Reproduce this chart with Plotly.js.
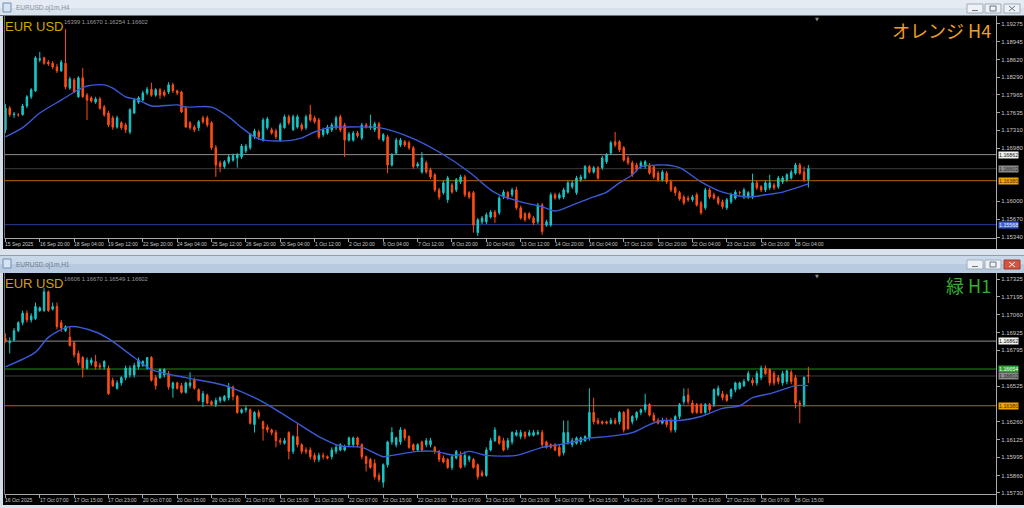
<!DOCTYPE html>
<html><head><meta charset="utf-8">
<script src="https://cdn.plot.ly/plotly-3.0.1.min.js"></script>
<style>html,body{margin:0;padding:0;background:#d3dde8;overflow:hidden}#chart{width:1024px;height:508px}</style>
</head><body><div id="chart"></div>
<script>
// ===== H4 chart (top) =====
const topOpen = [
1.1732,1.1772,1.1760,1.1760,1.1760,1.1776,1.1793,1.1804,1.1861,1.1865,
1.1857,1.1855,1.1848,1.1841,1.1855,1.1809,1.1824,1.1793,1.1828,1.1796,
1.1791,1.1783,1.1789,1.1774,1.1763,1.1754,1.1737,1.1745,1.1741,1.1728,
1.1763,1.1783,1.1787,1.1800,1.1807,1.1796,1.1806,1.1802,1.1802,1.1815,
1.1804,1.1802,1.1772,1.1745,1.1737,1.1736,1.1754,1.1754,1.1745,1.1699,
1.1671,1.1664,1.1673,1.1676,1.1680,1.1682,1.1693,1.1699,1.1719,1.1728,
1.1713,1.1736,1.1732,1.1730,1.1713,1.1736,1.1756,1.1732,1.1737,1.1741,
1.1736,1.1760,1.1754,1.1750,1.1723,1.1726,1.1732,1.1736,1.1756,1.1741,
1.1713,1.1713,1.1726,1.1717,1.1741,1.1736,1.1732,1.1743,1.1713,1.1719,
1.1667,1.1689,1.1704,1.1710,1.1708,1.1699,1.1665,1.1654,1.1671,1.1658,
1.1649,1.1621,1.1616,1.1603,1.1630,1.1621,1.1636,1.1645,1.1616,1.1616,
1.1542,1.1562,1.1562,1.1571,1.1580,1.1579,1.1608,1.1616,1.1612,1.1621,
1.1588,1.1577,1.1577,1.1569,1.1562,1.1593,1.1556,1.1556,1.1612,1.1606,
1.1608,1.1617,1.1627,1.1616,1.1640,1.1643,1.1664,1.1654,1.1662,1.1662,
1.1673,1.1689,1.1710,1.1710,1.1699,1.1680,1.1671,1.1667,1.1664,1.1664,
1.1667,1.1664,1.1652,1.1640,1.1652,1.1636,1.1625,1.1616,1.1608,1.1606,
1.1603,1.1612,1.1597,1.1588,1.1621,1.1612,1.1606,1.1599,1.1588,1.1599,
1.1606,1.1616,1.1608,1.1608,1.1608,1.1634,1.1627,1.1621,1.1625,1.1630,
1.1627,1.1636,1.1640,1.1643,1.1652,1.1667,1.1654,1.16399];
const topHigh = [
1.1780,1.1776,1.1765,1.1763,1.1780,1.1796,1.1809,1.1868,1.1876,1.1867,
1.1861,1.1859,1.1854,1.1861,1.1918,1.1830,1.1828,1.1831,1.1846,1.1800,
1.1794,1.1793,1.1793,1.1778,1.1767,1.1758,1.1758,1.1748,1.1745,1.1772,
1.1791,1.1794,1.1804,1.1811,1.1819,1.1809,1.1809,1.1806,1.1820,1.1819,
1.1806,1.1804,1.1776,1.1748,1.1741,1.1750,1.1758,1.1758,1.1748,1.1704,
1.1675,1.1676,1.1686,1.1688,1.1689,1.1706,1.1706,1.1726,1.1734,1.1732,
1.1754,1.1756,1.1736,1.1734,1.1745,1.1760,1.1760,1.1760,1.1760,1.1745,
1.1760,1.1778,1.1758,1.1754,1.1736,1.1741,1.1745,1.1758,1.1760,1.1745,
1.1728,1.1730,1.1730,1.1745,1.1745,1.1760,1.1747,1.1747,1.1726,1.1723,
1.1689,1.1717,1.1717,1.1713,1.1712,1.1702,1.1673,1.1691,1.1675,1.1662,
1.1652,1.1625,1.1638,1.1647,1.1634,1.1643,1.1649,1.1649,1.1619,1.1619,
1.1569,1.1573,1.1579,1.1584,1.1584,1.1610,1.1621,1.1619,1.1625,1.1627,
1.1592,1.1580,1.1580,1.1573,1.1597,1.1597,1.1566,1.1616,1.1616,1.1616,
1.1625,1.1638,1.1638,1.1647,1.1649,1.1667,1.1667,1.1665,1.1665,1.1684,
1.1689,1.1712,1.1728,1.1713,1.1702,1.1684,1.1675,1.1671,1.1675,1.1676,
1.1671,1.1667,1.1656,1.1658,1.1656,1.1640,1.1628,1.1619,1.1612,1.1610,
1.1612,1.1616,1.1601,1.1625,1.1625,1.1616,1.1610,1.1603,1.1606,1.1616,
1.1621,1.1619,1.1625,1.1619,1.1651,1.1638,1.1630,1.1638,1.1649,1.1634,
1.1647,1.1647,1.1652,1.1658,1.1671,1.1671,1.1664,1.16670];
const topLow = [
1.1726,1.1756,1.1754,1.1756,1.1758,1.1772,1.1789,1.1802,1.1857,1.1852,
1.1850,1.1844,1.1837,1.1839,1.1807,1.1806,1.1800,1.1791,1.1791,1.1750,
1.1782,1.1780,1.1769,1.1756,1.1737,1.1732,1.1734,1.1732,1.1726,1.1724,
1.1761,1.1780,1.1785,1.1796,1.1793,1.1793,1.1789,1.1793,1.1798,1.1800,
1.1796,1.1763,1.1736,1.1732,1.1728,1.1730,1.1743,1.1737,1.1695,1.1645,
1.1654,1.1660,1.1669,1.1673,1.1662,1.1678,1.1689,1.1695,1.1715,1.1713,
1.1710,1.1732,1.1723,1.1715,1.1710,1.1734,1.1741,1.1730,1.1734,1.1730,
1.1732,1.1747,1.1743,1.1715,1.1719,1.1723,1.1728,1.1732,1.1728,1.1682,
1.1710,1.1710,1.1717,1.1713,1.1734,1.1732,1.1728,1.1713,1.1710,1.1652,
1.1664,1.1686,1.1700,1.1700,1.1695,1.1660,1.1662,1.1651,1.1651,1.1641,
1.1617,1.1603,1.1612,1.1597,1.1614,1.1617,1.1632,1.1608,1.1604,1.1542,
1.1536,1.1558,1.1558,1.1568,1.1560,1.1575,1.1604,1.1603,1.1608,1.1584,
1.1566,1.1562,1.1566,1.1556,1.1558,1.1538,1.1553,1.1553,1.1603,1.1603,
1.1604,1.1614,1.1623,1.1612,1.1636,1.1640,1.1651,1.1651,1.1640,1.1658,
1.1669,1.1686,1.1700,1.1691,1.1673,1.1667,1.1645,1.1654,1.1660,1.1660,
1.1649,1.1641,1.1636,1.1636,1.1632,1.1617,1.1610,1.1601,1.1593,1.1599,
1.1599,1.1590,1.1575,1.1584,1.1604,1.1603,1.1593,1.1586,1.1584,1.1595,
1.1603,1.1612,1.1604,1.1604,1.1604,1.1621,1.1617,1.1617,1.1621,1.1621,
1.1623,1.1632,1.1636,1.1640,1.1649,1.1649,1.1636,1.16254];
const topClose = [
1.1772,1.1760,1.1761,1.1760,1.1776,1.1793,1.1806,1.1865,1.1863,1.1855,
1.1854,1.1848,1.1841,1.1857,1.1811,1.1826,1.1802,1.1828,1.1793,1.1787,
1.1785,1.1789,1.1772,1.1760,1.1741,1.1737,1.1754,1.1736,1.1732,1.1769,
1.1787,1.1791,1.1800,1.1807,1.1796,1.1806,1.1796,1.1796,1.1815,1.1804,
1.1800,1.1765,1.1737,1.1736,1.1732,1.1747,1.1747,1.1741,1.1699,1.1667,
1.1664,1.1673,1.1682,1.1684,1.1686,1.1702,1.1702,1.1723,1.1730,1.1719,
1.1750,1.1752,1.1726,1.1719,1.1741,1.1756,1.1745,1.1756,1.1756,1.1734,
1.1756,1.1750,1.1747,1.1719,1.1732,1.1737,1.1741,1.1754,1.1732,1.1713,
1.1724,1.1726,1.1721,1.1741,1.1737,1.1739,1.1743,1.1717,1.1723,1.1667,
1.1686,1.1713,1.1713,1.1704,1.1699,1.1664,1.1669,1.1680,1.1654,1.1645,
1.1621,1.1608,1.1634,1.1643,1.1617,1.1640,1.1645,1.1612,1.1608,1.1556,
1.1566,1.1569,1.1575,1.1580,1.1571,1.1606,1.1617,1.1606,1.1621,1.1588,
1.1569,1.1566,1.1569,1.1560,1.1593,1.1544,1.1562,1.1612,1.1606,1.1612,
1.1621,1.1634,1.1634,1.1643,1.1645,1.1664,1.1654,1.1662,1.1643,1.1680,
1.1686,1.1708,1.1704,1.1695,1.1676,1.1671,1.1649,1.1658,1.1671,1.1673,
1.1652,1.1645,1.1640,1.1654,1.1636,1.1621,1.1616,1.1604,1.1597,1.1603,
1.1608,1.1593,1.1579,1.1621,1.1608,1.1606,1.1597,1.1590,1.1603,1.1612,
1.1617,1.1616,1.1621,1.1616,1.1634,1.1625,1.1621,1.1634,1.1634,1.1625,
1.1643,1.1643,1.1649,1.1654,1.1667,1.1652,1.1640,1.16602];
const topMaIdx = [0,4,8,13,17,19,23,25,28,31,34,40,42,48,52,55,58,60,66,69,72,76,78,87,94,101,108,113,115,120,125,128,132,137,140,143,146,148,152,154,157,162,167,173,177,181,187];
const topMaVal = [1.1719,1.1736,1.1763,1.1787,1.1806,1.1813,1.1815,1.1809,1.1793,1.1787,1.1776,1.1778,1.1774,1.1774,1.1756,1.1736,1.1719,1.1713,1.1712,1.1717,1.1728,1.1737,1.1737,1.1736,1.1719,1.1691,1.1654,1.1621,1.1612,1.1599,1.1590,1.1582,1.1593,1.1608,1.1617,1.1634,1.1649,1.1664,1.1667,1.1667,1.1662,1.1636,1.1617,1.1608,1.1612,1.1617,1.1632];
const topTickIdx = [0,8,16,24,32,40,48,56,64,72,80,88,96,104,112,120,128,136,144,152,160,168,176,184];
const topTickText = ["15 Sep 2025","16 Sep 20:00","18 Sep 04:00","19 Sep 12:00","22 Sep 20:00","24 Sep 04:00","25 Sep 12:00","26 Sep 20:00","30 Sep 04:00","1 Oct 12:00","2 Oct 20:00","6 Oct 04:00","7 Oct 12:00","8 Oct 20:00","10 Oct 04:00","13 Oct 12:00","14 Oct 20:00","16 Oct 04:00","17 Oct 12:00","20 Oct 20:00","22 Oct 04:00","23 Oct 12:00","24 Oct 20:00","28 Oct 04:00"];
const topPriceTicks = [1.19275,1.18945,1.18620,1.18290,1.17965,1.17635,1.17310,1.16980,1.16000,1.15670,1.15340];
const topLevels = [1.16862,1.16602,1.16380,1.15568];
const topHeader = "16399 1.16670 1.16254 1.16602";

// ===== H1 chart (bottom) =====
const botOpen = [
1.1688,1.1685,1.1687,1.1694,1.1700,1.1707,1.1702,1.1703,1.1709,1.1709,
1.1723,1.1710,1.1712,1.1700,1.1694,1.1689,1.1685,1.1677,1.1674,1.1666,
1.1670,1.1671,1.1668,1.1667,1.1666,1.1657,1.1651,1.1655,1.1659,1.1661,
1.1661,1.1667,1.1668,1.1666,1.1674,1.1659,1.1659,1.1661,1.1662,1.1651,
1.1655,1.1653,1.1648,1.1653,1.1657,1.1650,1.1641,1.1646,1.1641,1.1639,
1.1642,1.1642,1.1644,1.1652,1.1645,1.1633,1.1635,1.1635,1.1624,1.1633,
1.1626,1.1622,1.1620,1.1618,1.1612,1.1610,1.1618,1.1604,1.1615,1.1609,
1.1605,1.1605,1.1601,1.1598,1.1601,1.1600,1.1600,1.1604,1.1605,1.1605,
1.1609,1.1609,1.1614,1.1609,1.1600,1.1598,1.1595,1.1586,1.1581,1.1594,
1.1611,1.1609,1.1611,1.1620,1.1615,1.1609,1.1605,1.1611,1.1609,1.1609,
1.1607,1.1604,1.1599,1.1598,1.1592,1.1599,1.1601,1.1594,1.1598,1.1598,
1.1594,1.1588,1.1586,1.1605,1.1612,1.1615,1.1612,1.1607,1.1611,1.1616,
1.1615,1.1618,1.1616,1.1616,1.1617,1.1618,1.1611,1.1609,1.1609,1.1607,
1.1603,1.1611,1.1609,1.1610,1.1611,1.1612,1.1614,1.1633,1.1627,1.1626,
1.1626,1.1625,1.1627,1.1626,1.1633,1.1635,1.1626,1.1629,1.1633,1.1635,
1.1639,1.1631,1.1627,1.1625,1.1627,1.1627,1.1620,1.1630,1.1641,1.1646,
1.1640,1.1639,1.1639,1.1633,1.1639,1.1639,1.1646,1.1647,1.1646,1.1645,
1.1650,1.1651,1.1653,1.1657,1.1657,1.1655,1.1659,1.1666,1.1665,1.1662,
1.1659,1.1655,1.1656,1.1663,1.1659,1.1640,1.1639,1.16606];
const botHigh = [
1.1692,1.1689,1.1696,1.1701,1.1709,1.1709,1.1707,1.1715,1.1712,1.1726,
1.1724,1.1715,1.1715,1.1702,1.1698,1.1697,1.1686,1.1679,1.1675,1.1674,
1.1674,1.1676,1.1670,1.1672,1.1668,1.1659,1.1657,1.1660,1.1668,1.1668,
1.1670,1.1674,1.1672,1.1674,1.1675,1.1661,1.1666,1.1666,1.1664,1.1656,
1.1656,1.1655,1.1656,1.1663,1.1659,1.1651,1.1649,1.1647,1.1642,1.1644,
1.1645,1.1646,1.1655,1.1653,1.1646,1.1636,1.1638,1.1636,1.1634,1.1635,
1.1627,1.1624,1.1621,1.1620,1.1614,1.1614,1.1619,1.1616,1.1625,1.1610,
1.1607,1.1607,1.1603,1.1603,1.1603,1.1601,1.1607,1.1609,1.1610,1.1609,
1.1615,1.1615,1.1615,1.1610,1.1601,1.1599,1.1598,1.1588,1.1595,1.1612,
1.1622,1.1615,1.1622,1.1621,1.1616,1.1610,1.1610,1.1612,1.1614,1.1614,
1.1608,1.1605,1.1601,1.1599,1.1601,1.1605,1.1604,1.1604,1.1601,1.1599,
1.1595,1.1590,1.1607,1.1614,1.1622,1.1616,1.1614,1.1614,1.1619,1.1620,
1.1620,1.1619,1.1620,1.1620,1.1620,1.1620,1.1612,1.1610,1.1610,1.1609,
1.1627,1.1627,1.1614,1.1615,1.1615,1.1616,1.1651,1.1644,1.1629,1.1627,
1.1627,1.1629,1.1629,1.1634,1.1634,1.1636,1.1631,1.1634,1.1636,1.1647,
1.1640,1.1633,1.1629,1.1629,1.1629,1.1629,1.1631,1.1640,1.1651,1.1651,
1.1642,1.1640,1.1640,1.1640,1.1640,1.1651,1.1653,1.1649,1.1647,1.1651,
1.1656,1.1656,1.1658,1.1664,1.1659,1.1664,1.1668,1.1668,1.1666,1.1664,
1.1661,1.1664,1.1665,1.1665,1.1661,1.1642,1.1660,1.16670];
const botLow = [
1.1685,1.1677,1.1686,1.1693,1.1698,1.1700,1.1700,1.1702,1.1708,1.1708,
1.1708,1.1709,1.1695,1.1693,1.1693,1.1682,1.1674,1.1668,1.1659,1.1665,
1.1668,1.1665,1.1665,1.1665,1.1646,1.1652,1.1650,1.1653,1.1657,1.1659,
1.1659,1.1665,1.1667,1.1665,1.1656,1.1650,1.1658,1.1659,1.1650,1.1644,
1.1650,1.1647,1.1647,1.1651,1.1650,1.1641,1.1637,1.1639,1.1638,1.1637,
1.1640,1.1641,1.1642,1.1642,1.1632,1.1632,1.1633,1.1624,1.1618,1.1628,
1.1612,1.1618,1.1616,1.1607,1.1609,1.1609,1.1598,1.1602,1.1607,1.1602,
1.1602,1.1598,1.1596,1.1596,1.1598,1.1598,1.1598,1.1602,1.1604,1.1604,
1.1607,1.1607,1.1607,1.1598,1.1589,1.1591,1.1583,1.1581,1.1577,1.1592,
1.1609,1.1607,1.1609,1.1612,1.1606,1.1604,1.1604,1.1604,1.1607,1.1607,
1.1602,1.1596,1.1595,1.1591,1.1590,1.1598,1.1591,1.1592,1.1596,1.1591,
1.1583,1.1585,1.1585,1.1604,1.1611,1.1609,1.1604,1.1605,1.1609,1.1615,
1.1613,1.1613,1.1615,1.1615,1.1616,1.1607,1.1606,1.1606,1.1604,1.1600,
1.1601,1.1609,1.1607,1.1609,1.1609,1.1611,1.1612,1.1624,1.1624,1.1624,
1.1624,1.1624,1.1624,1.1624,1.1618,1.1620,1.1624,1.1627,1.1631,1.1633,
1.1630,1.1626,1.1624,1.1624,1.1622,1.1618,1.1618,1.1628,1.1639,1.1639,
1.1632,1.1632,1.1632,1.1632,1.1633,1.1637,1.1645,1.1642,1.1641,1.1643,
1.1648,1.1650,1.1652,1.1656,1.1653,1.1653,1.1657,1.1661,1.1653,1.1653,
1.1654,1.1653,1.1654,1.1654,1.1636,1.1625,1.1637,1.16549];
const botClose = [
1.1686,1.1686,1.1694,1.1700,1.1707,1.1702,1.1705,1.1712,1.1711,1.1723,
1.1709,1.1712,1.1697,1.1696,1.1697,1.1683,1.1676,1.1670,1.1666,1.1672,
1.1672,1.1667,1.1667,1.1671,1.1647,1.1653,1.1655,1.1659,1.1666,1.1666,
1.1668,1.1672,1.1671,1.1674,1.1657,1.1653,1.1665,1.1665,1.1652,1.1655,
1.1651,1.1648,1.1655,1.1655,1.1651,1.1642,1.1647,1.1640,1.1639,1.1642,
1.1644,1.1645,1.1652,1.1645,1.1633,1.1635,1.1636,1.1625,1.1633,1.1630,
1.1621,1.1620,1.1618,1.1612,1.1611,1.1612,1.1604,1.1615,1.1609,1.1604,
1.1604,1.1600,1.1598,1.1601,1.1600,1.1599,1.1605,1.1607,1.1609,1.1607,
1.1614,1.1614,1.1609,1.1600,1.1595,1.1592,1.1585,1.1583,1.1594,1.1611,
1.1618,1.1614,1.1620,1.1614,1.1607,1.1605,1.1609,1.1605,1.1612,1.1612,
1.1604,1.1598,1.1596,1.1592,1.1600,1.1604,1.1592,1.1601,1.1600,1.1592,
1.1585,1.1586,1.1605,1.1612,1.1620,1.1610,1.1605,1.1612,1.1618,1.1618,
1.1618,1.1615,1.1618,1.1618,1.1618,1.1609,1.1607,1.1607,1.1605,1.1601,
1.1618,1.1618,1.1612,1.1614,1.1614,1.1615,1.1633,1.1626,1.1625,1.1625,
1.1625,1.1627,1.1625,1.1633,1.1620,1.1621,1.1630,1.1633,1.1635,1.1639,
1.1631,1.1627,1.1625,1.1627,1.1624,1.1620,1.1630,1.1639,1.1645,1.1641,
1.1633,1.1633,1.1633,1.1639,1.1635,1.1650,1.1651,1.1644,1.1642,1.1650,
1.1655,1.1655,1.1656,1.1662,1.1655,1.1662,1.1666,1.1662,1.1655,1.1655,
1.1656,1.1662,1.1664,1.1656,1.1640,1.1639,1.1659,1.16602];
const botMaIdx = [0,7,10,15,21,24,30,34,42,50,53,58,62,67,73,78,83,88,90,96,100,105,108,112,119,125,129,132,136,140,146,150,153,157,162,167,171,174,178,181,184,187];
const botMaVal = [1.1667,1.1678,1.1689,1.1697,1.1693,1.1688,1.1674,1.1665,1.1659,1.1654,1.1651,1.1644,1.1637,1.1627,1.1615,1.1608,1.1607,1.1600,1.1601,1.1604,1.1604,1.1601,1.1604,1.1601,1.1601,1.1607,1.1609,1.1611,1.1614,1.1615,1.1618,1.1624,1.1627,1.1627,1.1630,1.1636,1.1638,1.1644,1.1647,1.1650,1.1653,1.1653];
const botTickIdx = [0,8,16,24,32,40,48,56,64,72,80,88,96,104,112,120,128,136,144,152,160,168,176,184];
const botTickText = ["16 Oct 2025","17 Oct 07:00","17 Oct 15:00","17 Oct 23:00","20 Oct 07:00","20 Oct 15:00","20 Oct 23:00","21 Oct 07:00","21 Oct 15:00","21 Oct 23:00","22 Oct 07:00","22 Oct 15:00","22 Oct 23:00","23 Oct 07:00","23 Oct 15:00","23 Oct 23:00","24 Oct 07:00","24 Oct 15:00","24 Oct 23:00","27 Oct 07:00","27 Oct 15:00","27 Oct 23:00","28 Oct 07:00","28 Oct 15:00"];
const botPriceTicks = [1.17325,1.17195,1.17060,1.16925,1.16795,1.16525,1.16260,1.16125,1.15995,1.15860,1.15730];
const botLevels = [1.16862,1.16654,1.16602,1.16380];
const botHeader = "16606 1.16670 1.16549 1.16602";

// ===== drawing =====
const W = 1024, H = 508;
const X = v => v / W;
const Y = v => 1 - v / H;
const UP = '#19c6c6', DN = '#ff4d14', MA = '#3a5ad8';
const FONT = 'Liberation Sans, Arial, sans-serif';
const idx = a => a.map((_, i) => i);

const shapes = [];
function rect(x0, y0, x1, y1, fill, line, lw) {
  shapes.push({type:'rect', xref:'paper', yref:'paper', x0:X(x0), x1:X(x1), y0:Y(y1), y1:Y(y0),
    fillcolor:fill, line:{color:line || fill, width: lw || 0}, layer:'below'});
}
function pline(x0, y0, x1, y1, color, w, layer) {
  shapes.push({type:'line', xref:'paper', yref:'paper', x0:X(x0), x1:X(x1), y0:Y(y0), y1:Y(y1),
    line:{color, width:w || 1}, layer: layer || 'above'});
}
// frame
rect(0, 0, 1024, 8, '#e4ebf3'); rect(0, 8, 1024, 16, '#d8e2ed');
pline(0, 15.5, 1024, 15.5, '#6b737c', 1);
rect(3, 16, 1024, 249, '#000000');
rect(0, 249, 1024, 256, '#d9e1ea');
pline(0, 255.5, 1024, 255.5, '#959ea8', 1);
rect(0, 256, 1024, 264, '#c9d8e9'); rect(0, 264, 1024, 273, '#b7cae0');
rect(3, 273, 1024, 505, '#000000');
rect(0, 505, 1024, 508, '#d9e1ea');
// window icons and buttons
function windowChrome(oy, active) {
  rect(3, oy + 3, 11, oy + 12, '#d6e4f2', '#6f8fb0', 1);
  rect(967, oy + 4, 983, oy + 13, '#eef2f6', '#9fabb8', 1);
  rect(985, oy + 4, 1001, oy + 13, '#eef2f6', '#9fabb8', 1);
  rect(1004, oy + 4, 1020, oy + 13, active ? '#d4543f' : '#eef2f6', active ? '#a03a2c' : '#9fabb8', 1);
  pline(972, oy + 10.5, 978, oy + 10.5, '#6a7480', 1);
  shapes.push({type:'rect', xref:'paper', yref:'paper', x0:X(990), x1:X(996), y0:Y(oy + 11), y1:Y(oy + 6),
    line:{color:'#6a7480', width:1}, fillcolor:'rgba(0,0,0,0)', layer:'above'});
  pline(1009, oy + 6, 1015, oy + 11, active ? '#ffffff' : '#6a7480', 1);
  pline(1009, oy + 11, 1015, oy + 6, active ? '#ffffff' : '#6a7480', 1);
}
windowChrome(0, false);
windowChrome(256, true);
// chart borders
function chartFrame(top, bottom, end) {
  pline(4.5, top, 4.5, bottom, '#6e6e6e', 1);
  pline(4.5, bottom + 0.5, 996.5, bottom + 0.5, '#a8a8a8', 1);
  pline(996.5, top, 996.5, end, '#a8a8a8', 1);
}
chartFrame(16, 238, 249);
chartFrame(273, 494, 505);

const levelColorsTop = ['#8e8e8e', '#3c3c3c', '#b56a00', '#2b3d99'];
const levelColorsBot = ['#8e8e8e', '#1f8c1f', '#3c3c3c', '#b56a00'];
topLevels.forEach((v, k) => shapes.push({type:'line', xref:'paper', yref:'y', x0:X(5), x1:X(996), y0:v, y1:v,
  line:{color:levelColorsTop[k], width:1}, layer:'below'}));
botLevels.forEach((v, k) => shapes.push({type:'line', xref:'paper', yref:'y2', x0:X(5), x1:X(996), y0:v, y1:v,
  line:{color:levelColorsBot[k], width:1}, layer:'below'}));

const ann = [];
function text(x, y, t, size, color, anchor, extra) {
  ann.push(Object.assign({xref:'paper', yref:'paper', x:X(x), y:Y(y), text:t, showarrow:false,
    xanchor:anchor || 'left', yanchor:'middle', font:{family:FONT, size, color}}, extra || {}));
}
// title bars
text(14, 8.5, 'EURUSD.oj1m,H4', 6.5, '#87919c');
text(14, 265, 'EURUSD.oj1m,H1', 6.5, '#6f7b88');
// headers: the part visible right of the symbol label
text(63, 22, topHeader, 5.8, '#9a9a9a', 'left', {borderpad:0});
text(63, 278.5, botHeader, 5.8, '#9a9a9a', 'left', {borderpad:0});
text(4, 26, 'EUR USD', 13, '#d2a300', 'left', {borderpad:0});
text(4, 283, 'EUR USD', 13, '#d2a300', 'left', {borderpad:0});
text(993, 30, 'オレンジ H4', 18, '#f0a020', 'right', {font:{family:'Noto Sans CJK JP, sans-serif', size:18, color:'#f0a020'}});
text(993, 285, '緑 H1', 18, '#33ad33', 'right', {font:{family:'Noto Sans CJK JP, sans-serif', size:18, color:'#33ad33'}});
text(817, 19, '▼', 5, '#8a8a8a', 'center', {font:{family:'DejaVu Sans', size:5, color:'#8a8a8a'}});
text(817, 276, '▼', 5, '#8a8a8a', 'center', {font:{family:'DejaVu Sans', size:5, color:'#8a8a8a'}});
// date labels
topTickIdx.forEach((v, k) => ann.push({xref:'x', yref:'paper', x:v, y:Y(243.5), xanchor:'left', yanchor:'middle',
  xshift:-2, text:topTickText[k], showarrow:false, font:{family:FONT, size:5, color:'#c8c8c8'}}));
botTickIdx.forEach((v, k) => ann.push({xref:'x2', yref:'paper', x:v, y:Y(499.5), xanchor:'left', yanchor:'middle',
  xshift:-2, text:botTickText[k], showarrow:false, font:{family:FONT, size:5, color:'#c8c8c8'}}));
// price tags
function tag(yref, v, bg, fg) {
  ann.push({xref:'paper', yref, x:X(997.5), y:v, xanchor:'left', yanchor:'middle', text:v.toFixed(5),
    showarrow:false, bgcolor:bg, borderpad:0, font:{family:FONT, size:5.3, color:fg}});
}
tag('y', topLevels[0], '#f2f2f2', '#111111');
tag('y', topLevels[1], '#8a8a8a', '#222222');
tag('y', topLevels[2], '#f2a500', '#4a2a00');
tag('y', topLevels[3], '#3d5ed0', '#e8ecff');
tag('y2', botLevels[0], '#f2f2f2', '#111111');
tag('y2', botLevels[1], '#2aa52a', '#ffffff');
tag('y2', botLevels[2], '#8a8a8a', '#222222');
tag('y2', botLevels[3], '#f2a500', '#4a2a00');

const candleStyle = {increasing:{line:{color:UP, width:1}, fillcolor:UP},
  decreasing:{line:{color:DN, width:1}, fillcolor:DN}, whiskerwidth:0, hoverinfo:'skip'};
const data = [
  Object.assign({type:'candlestick', x:idx(topOpen), open:topOpen, high:topHigh, low:topLow, close:topClose,
    xaxis:'x', yaxis:'y'}, candleStyle),
  {type:'scatter', mode:'lines', x:topMaIdx, y:topMaVal, xaxis:'x', yaxis:'y',
    line:{color:MA, width:1.4, shape:'spline', smoothing:0.8}, hoverinfo:'skip'},
  Object.assign({type:'candlestick', x:idx(botOpen), open:botOpen, high:botHigh, low:botLow, close:botClose,
    xaxis:'x2', yaxis:'y2'}, candleStyle),
  {type:'scatter', mode:'lines', x:botMaIdx, y:botMaVal, xaxis:'x2', yaxis:'y2',
    line:{color:MA, width:1.4, shape:'spline', smoothing:0.8}, hoverinfo:'skip'}
];

const xBase = {range:[-0.1, 230.7], showgrid:false, zeroline:false, showline:false, ticks:'outside', ticklen:3,
  tickcolor:'#a8a8a8', showticklabels:false, rangeslider:{visible:false}, fixedrange:true, domain:[X(5), X(996)]};
const yBase = {side:'right', showgrid:false, zeroline:false, showline:false, ticks:'outside', ticklen:3,
  tickcolor:'#a8a8a8', tickfont:{family:FONT, size:6, color:'#c8c8c8'}, fixedrange:true};
const layout = {
  width:W, height:H, margin:{l:0, r:0, t:0, b:0, pad:0},
  paper_bgcolor:'#d3dde8', plot_bgcolor:'#000000', showlegend:false, hovermode:false,
  boxgap:0.5,
  xaxis:Object.assign({}, xBase, {anchor:'y', tickvals:topTickIdx}),
  yaxis:Object.assign({}, yBase, {anchor:'x', domain:[Y(238), Y(16)], range:[1.15322, 1.19422],
    tickvals:topPriceTicks, ticktext:topPriceTicks.map(v => v.toFixed(5))}),
  xaxis2:Object.assign({}, xBase, {anchor:'y2', tickvals:botTickIdx}),
  yaxis2:Object.assign({}, yBase, {anchor:'x2', domain:[Y(494), Y(273)], range:[1.15722, 1.17370],
    tickvals:botPriceTicks, ticktext:botPriceTicks.map(v => v.toFixed(5))}),
  shapes, annotations:ann
};
Plotly.newPlot('chart', data, layout, {staticPlot:true, displayModeBar:false});
</script>
</body></html>
